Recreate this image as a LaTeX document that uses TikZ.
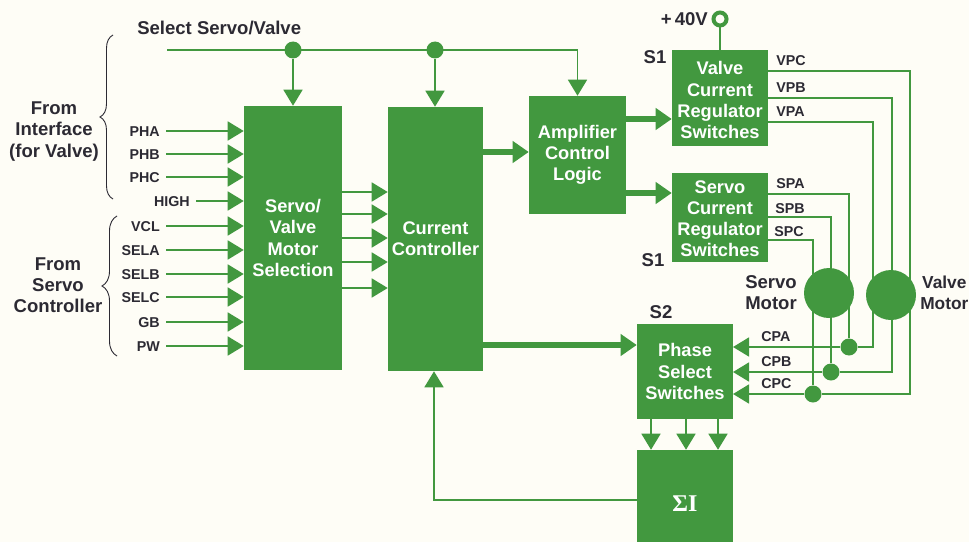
\documentclass[tikz,border=0pt]{standalone}
\usepackage{fontspec}
\setmainfont{Liberation Sans}
\newfontfamily\sumfont{Liberation Serif}
\usetikzlibrary{arrows.meta,decorations.pathreplacing}
\definecolor{boxgreen}{HTML}{42983F}
\definecolor{paper}{HTML}{FEFDF6}
\definecolor{inkdark}{HTML}{2C2A33}
\def\px{0.75pt}
\tikzset{
  blockbox/.style={fill=boxgreen,text=white,inner sep=0pt,align=center,
    font=\fontsize{13.7}{15.8}\selectfont\bfseries},
  biglabel/.style={text=inkdark,inner sep=0pt,align=center,
    font=\fontsize{13.9}{15.9}\selectfont\bfseries},
  siglabel/.style={text=inkdark,inner sep=0pt,text height=8.4pt,text depth=0pt,
    font=\fontsize{10.7}{12}\selectfont\bfseries},
  sigline/.style={draw=boxgreen,line width=1.5*\px},
  sigarrow/.style={sigline,-{Triangle[length=16*\px,width=19*\px]}},
  fatarrow/.style={draw=boxgreen,line width=6*\px,-{Triangle[length=16*\px,width=21*\px]}},
  junction/.style={circle,fill=boxgreen,inner sep=0pt,minimum size=17*\px},
  motor/.style={circle,fill=boxgreen,inner sep=0pt,minimum size=50*\px},
  bracket/.style={draw=inkdark,line width=0.9*\px,decorate},
}
\begin{document}
\begin{tikzpicture}[x=\px,y=-\px]
    \useasboundingbox[fill=paper] (0,0) rectangle (969,542);
    % blocks
    \node[blockbox,minimum width=98*\px,minimum height=264*\px] (sel) at (293,238) {Servo/\\Valve\\Motor\\Selection};
    \node[blockbox,minimum width=95*\px,minimum height=264*\px] (cur) at (435.5,239) {Current\\Controller};
    \node[blockbox,minimum width=97*\px,minimum height=118*\px] (amp) at (577.5,155) {Amplifier\\Control\\Logic};
    \node[blockbox,minimum width=96*\px,minimum height=96*\px] (vreg) at (720,98) {\rule{0pt}{13pt}Valve\\Current\\Regulator\\Switches};
    \node[blockbox,minimum width=96*\px,minimum height=89*\px] (sreg) at (720,217.5) {\rule{0pt}{11.5pt}Servo\\Current\\Regulator\\Switches};
    \node[blockbox,minimum width=96*\px,minimum height=95*\px] (phase) at (685,371.5) {Phase\\Select\\Switches};
    \node[blockbox,minimum width=96*\px,minimum height=92*\px] (sum) at (685,496) {\smash{\raisebox{-11.25pt}{\sumfont\fontsize{18}{18}\selectfont ΣI}}};
    \node[motor] (smotor) at (829,293) {};
    \node[motor] (vmotor) at (891,295) {};
    % select line
    \coordinate (selstart) at (167,50);
    \node[junction] (jsel) at (293,50) {};
    \node[junction] (jcur) at (435,50) {};
    \node[biglabel,anchor=west] (seltext) at (137,28) {Select Servo/Valve};
    \draw[sigline] (selstart) -- (jsel);
    \draw[sigarrow] (selstart) -| (amp.north);
    \draw[sigarrow] (jsel) -- (sel.north);
    \draw[sigarrow] (jcur) -- (cur.north -| jcur);
    % inputs
    \foreach \name/\x/\y in {PHA/160/131,PHB/160/154,PHC/160/177,HIGH/190/201,VCL/160/226,
      SELA/160/250,SELB/160/274,SELC/160/297,GB/160/322,PW/160/346} {
      \node[siglabel,anchor=east] (\name) at (\x,\y) {\name};
      \draw[sigarrow] ([xshift=6*\px]\name.east) -- (\name -| sel.west);
    }
    % selection to controller
    \foreach \y in {192,214,238,262,288} {
      \coordinate (out\y) at (342,\y);
      \draw[sigarrow] (out\y) -- (out\y -| cur.west);
    }
    % fat arrows
    \coordinate (curout) at (483,152);
    \coordinate (ampv) at (626,119);
    \coordinate (amps) at (626,193);
    \coordinate (curph) at (483,345);
    \draw[fatarrow] (curout) -- (curout -| amp.west);
    \draw[fatarrow] (ampv) -- (ampv -| vreg.west);
    \draw[fatarrow] (amps) -- (amps -| sreg.west);
    \draw[fatarrow] (curph) -- (curph -| phase.west);
    % +40V
    \node[circle,draw=boxgreen,line width=4*\px,fill=paper,inner sep=0pt,minimum size=13*\px] (plus) at (720,19) {};
    \draw[sigline] (plus) -- (vreg.north -| plus);
    \node[biglabel,anchor=east] (volts) at (708,19) {+\,40V};
    % motor wiring
    \node[junction] (ja) at (849,347) {};
    \node[junction] (jb) at (831,372) {};
    \node[junction] (jc) at (813,394) {};
    \coordinate (cpa) at (733,347);
    \coordinate (cpb) at (733,372);
    \coordinate (cpc) at (733,394);
    \foreach \name/\x/\y in {VPC/910/71,VPB/892/98,VPA/873/122,SPA/849/194,SPB/831/217,SPC/813/240} {
      \coordinate (w\name) at (768,\y);
      \coordinate (t\name) at (\x,\y);
    }
    \draw[sigline] (wVPC) -- (tVPC) |- (jc);
    \draw[sigline] (wVPB) -- (tVPB) -- (vmotor.north -| tVPB);
    \draw[sigline] (vmotor.south -| tVPB) |- (jb);
    \draw[sigline] (wVPA) -- (tVPA) |- (ja);
    \draw[sigline] (wSPA) -- (tSPA) -- (ja);
    \draw[sigline] (wSPB) -- (tSPB) -- (jb);
    \draw[sigline] (wSPC) -- (tSPC) -- (jc);
    \draw[sigarrow] (ja) -- (cpa);
    \draw[sigarrow] (jb) -- (cpb);
    \draw[sigarrow] (jc) -- (cpc);
    % phase to sum
    \foreach \x in {651,686,718} {
      \coordinate (ph\x) at (\x,419);
      \draw[sigarrow] (ph\x) -- (ph\x |- sum.north);
    }
    \coordinate (back) at (434,500);
    \draw[sigarrow] (back -| sum.west) -- (back) -- (back |- cur.south);
    % labels
    \foreach \name/\x/\y in {VPC/776/60,VPB/776/87,VPA/776/111,SPA/776/183,SPB/775/208,SPC/774/231,
      CPA/761/336,CPB/761/361,CPC/761/383} {
      \node[siglabel,anchor=west] (l\name) at (\x,\y) {\name};
    }
    \node[biglabel] (s1top) at (655,57) {S1};
    \node[biglabel] (s1bot) at (653,260) {S1};
    \node[biglabel] (s2) at (661,312) {S2};
    \node[biglabel] (smtext) at (771,292.5) {Servo\\Motor};
    \node[biglabel,anchor=west,font=\fontsize{13}{15.9}\selectfont\bfseries] (vmtext) at (920,292.5) {Valve\\Motor};
    \node[biglabel] (fromif) at (54,131.5) {From\\Interface\\(for Valve)};
    \node[biglabel] (fromsc) at (58,285.5) {From\\Servo\\Controller};
    % braces
    \coordinate (b1a) at (113,199);
    \coordinate (b1b) at (113,35);
    \coordinate (b2a) at (117,356);
    \coordinate (b2b) at (117,216);
    \draw[bracket,decoration={brace,amplitude=13*\px}] (b1a) -- (b1b);
    \draw[bracket,decoration={brace,amplitude=15*\px}] (b2a) -- (b2b);
  \end{tikzpicture}
\end{document}
